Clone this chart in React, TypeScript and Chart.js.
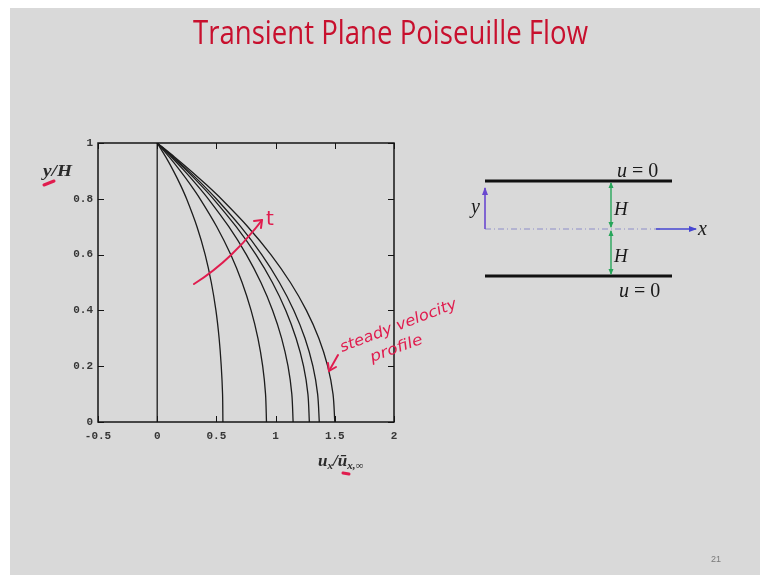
import React, { useEffect, useRef } from "react";
import { Chart, registerables } from "chart.js";

Chart.register(...registerables);

const PAGE_W = 767;
const PAGE_H = 581;

// Wall-normal positions y/H at which the profiles are sampled
const yLevels = [0, 0.1, 0.2, 0.3, 0.4, 0.5, 0.6, 0.7, 0.8, 0.85, 0.9, 0.95, 1];

// u_x / ū_x,∞ at each y/H, from fluid at rest to the steady parabola
const uRest = [0, 0, 0, 0, 0, 0, 0, 0, 0, 0, 0, 0, 0];
const uTime1 = [0.555, 0.552, 0.541, 0.523, 0.496, 0.457, 0.405, 0.336, 0.248, 0.196, 0.137, 0.072, 0];
const uTime2 = [0.923, 0.915, 0.891, 0.851, 0.793, 0.717, 0.621, 0.503, 0.362, 0.282, 0.195, 0.101, 0];
const uTime3 = [1.148, 1.137, 1.105, 1.051, 0.975, 0.876, 0.753, 0.605, 0.431, 0.334, 0.23, 0.119, 0];
const uTime4 = [1.285, 1.273, 1.236, 1.173, 1.086, 0.973, 0.834, 0.667, 0.474, 0.366, 0.251, 0.129, 0];
const uTime5 = [1.369, 1.355, 1.315, 1.248, 1.154, 1.032, 0.883, 0.705, 0.499, 0.386, 0.264, 0.136, 0];
const uSteady = [1.5, 1.485, 1.44, 1.365, 1.26, 1.125, 0.96, 0.765, 0.54, 0.416, 0.285, 0.146, 0];

const profiles = [uRest, uTime1, uTime2, uTime3, uTime4, uTime5, uSteady];

const xTicks = [-0.5, 0, 0.5, 1, 1.5, 2];
const yTicks = [0, 0.2, 0.4, 0.6, 0.8, 1];

// Box around the plot with inward tick marks on all four sides (gnuplot style)
const framePlugin = {
  id: "frameTicks",
  afterDatasetsDraw(chart: any) {
    const { ctx, chartArea: a, scales } = chart;
    const xs = scales.x;
    const ys = scales.y;
    const len = 6;
    ctx.save();
    ctx.strokeStyle = "#141414";
    ctx.lineWidth = 1.5;
    ctx.strokeRect(a.left, a.top, a.right - a.left, a.bottom - a.top);
    ctx.lineWidth = 1;
    ctx.beginPath();
    xs.ticks.forEach((t: any) => {
      const px = Math.round(xs.getPixelForValue(t.value)) + 0.5;
      ctx.moveTo(px, a.bottom);
      ctx.lineTo(px, a.bottom - len);
      ctx.moveTo(px, a.top);
      ctx.lineTo(px, a.top + len);
    });
    ys.ticks.forEach((t: any) => {
      const py = Math.round(ys.getPixelForValue(t.value)) + 0.5;
      ctx.moveTo(a.left, py);
      ctx.lineTo(a.left + len, py);
      ctx.moveTo(a.right, py);
      ctx.lineTo(a.right - len, py);
    });
    ctx.stroke();
    ctx.restore();
  },
};

function ProfilesChart() {
  const ref = useRef<HTMLCanvasElement | null>(null);

  useEffect(() => {
    if (!ref.current) return;
    const datasets = profiles.map((u) => ({
      data: yLevels.map((y, i) => ({ x: u[i], y })),
      borderColor: "#1c1c1c",
      borderWidth: 1.3,
      pointRadius: 0,
      tension: 0.3,
      fill: false,
    }));
    const tickFont = { family: "'Liberation Mono', 'DejaVu Sans Mono', monospace", size: 11, weight: "bold" as const };
    const chart = new Chart(ref.current, {
      type: "line",
      data: { datasets },
      options: {
        animation: false,
        responsive: false,
        maintainAspectRatio: false,
        layout: { padding: { left: 58, right: 373, top: 143, bottom: 129 } },
        plugins: { legend: { display: false }, tooltip: { enabled: false }, title: { display: false } },
        scales: {
          x: {
            type: "linear",
            min: -0.5,
            max: 2,
            afterBuildTicks: (s: any) => {
              s.ticks = xTicks.map((v) => ({ value: v }));
            },
            afterFit: (s: any) => {
              s.height = 30;
            },
            grid: { display: false, drawTicks: false },
            border: { display: false },
            ticks: {
              color: "#363636",
              font: tickFont,
              padding: 8,
              maxRotation: 0,
              callback: (v: any) => String(v),
            },
          },
          y: {
            type: "linear",
            min: 0,
            max: 1,
            afterBuildTicks: (s: any) => {
              s.ticks = yTicks.map((v) => ({ value: v }));
            },
            afterFit: (s: any) => {
              s.width = 40;
            },
            grid: { display: false, drawTicks: false },
            border: { display: false },
            ticks: { color: "#363636", font: tickFont, padding: 5, callback: (v: any) => String(v) },
          },
        },
      },
      plugins: [framePlugin],
    });
    return () => chart.destroy();
  }, []);

  return (
    <canvas
      ref={ref}
      width={PAGE_W}
      height={PAGE_H}
      style={{ position: "absolute", left: 0, top: 0, width: PAGE_W, height: PAGE_H }}
    />
  );
}

const RED = "#e01c4e";
const serif = "'Liberation Serif', 'DejaVu Serif', serif";
const hand = "'DejaVu Sans', 'Noto Sans', sans-serif";

function Overlay() {
  return (
    <svg
      width={PAGE_W}
      height={PAGE_H}
      style={{ position: "absolute", left: 0, top: 0 }}
      xmlns="http://www.w3.org/2000/svg"
    >
      <defs>
        <marker id="blueHead" markerWidth="8" markerHeight="8" refX="7" refY="4" orient="auto" markerUnits="userSpaceOnUse">
          <path d="M0,1 L8,4 L0,7 Z" fill="#4646d2" />
        </marker>
        <marker id="purpleHead" markerWidth="8" markerHeight="8" refX="7" refY="4" orient="auto" markerUnits="userSpaceOnUse">
          <path d="M0,1 L8,4 L0,7 Z" fill="#6a48d0" />
        </marker>
        <marker id="greenHead" markerWidth="6" markerHeight="6" refX="5" refY="3" orient="auto-start-reverse" markerUnits="userSpaceOnUse">
          <path d="M0,0.5 L6,3 L0,5.5 Z" fill="#27a65a" />
        </marker>
      </defs>

      {/* slide title */}
      <text
        x={193}
        y={44}
        fontFamily="'Open Sans', 'Noto Sans', sans-serif"
        fontSize={32}
        fill="#c8102e"
        textLength={395}
        lengthAdjust="spacingAndGlyphs"
      >
        Transient Plane Poiseuille Flow
      </text>

      {/* axis titles */}
      <text x={43} y={176} fontFamily={serif} fontStyle="italic" fontWeight="bold" fontSize={17} fill="#2a2a2a" textLength={29} lengthAdjust="spacingAndGlyphs">
        y/H
      </text>
      <text x={318} y={466} fontFamily={serif} fontStyle="italic" fontWeight="bold" fontSize={17} fill="#2a2a2a">
        u<tspan fontSize={11} dy={3}>x</tspan>
        <tspan dy={-3}>/ū</tspan>
        <tspan fontSize={11} dy={3}>x,∞</tspan>
      </text>

      {/* hand-drawn annotations */}
      <path d="M44,185 L54,181" stroke={RED} strokeWidth={3} strokeLinecap="round" />
      <path d="M343,473 L349,474" stroke={RED} strokeWidth={3} strokeLinecap="round" />
      <path d="M194,284 Q232,260 262,220" stroke={RED} strokeWidth={2} fill="none" strokeLinecap="round" />
      <path d="M254,221 L262,220 L261,228" stroke={RED} strokeWidth={2} fill="none" strokeLinecap="round" strokeLinejoin="round" />
      <text x={266} y={225} fontFamily={hand} fontSize={20} fill={RED}>
        t
      </text>
      <g transform="translate(342,352) rotate(-21)">
        <text x={0} y={0} fontFamily={hand} fontStyle="italic" fontSize={15} fill={RED} textLength={124} lengthAdjust="spacingAndGlyphs">
          steady velocity
        </text>
      </g>
      <g transform="translate(372,362) rotate(-20)">
        <text x={0} y={0} fontFamily={hand} fontStyle="italic" fontSize={15} fill={RED} textLength={55} lengthAdjust="spacingAndGlyphs">
          profile
        </text>
      </g>
      <path d="M338,355 L329,371" stroke={RED} strokeWidth={2} fill="none" strokeLinecap="round" />
      <path d="M328,363 L329,371 L336,367" stroke={RED} strokeWidth={2} fill="none" strokeLinecap="round" strokeLinejoin="round" />

      {/* channel sketch */}
      <line x1={485} y1={181} x2={672} y2={181} stroke="#111" strokeWidth={3} />
      <line x1={485} y1={276} x2={672} y2={276} stroke="#111" strokeWidth={3} />
      <line x1={485} y1={229} x2={660} y2={229} stroke="#8d8dc8" strokeWidth={1} strokeDasharray="6 3 1 3" />
      <line x1={656} y1={229} x2={696} y2={229} stroke="#4646d2" strokeWidth={1.6} markerEnd="url(#blueHead)" />
      <line x1={485} y1={229} x2={485} y2={188} stroke="#6a48d0" strokeWidth={1.6} markerEnd="url(#purpleHead)" />
      <line x1={611} y1={183} x2={611} y2={227} stroke="#27a65a" strokeWidth={1.4} markerStart="url(#greenHead)" markerEnd="url(#greenHead)" />
      <line x1={611} y1={231} x2={611} y2={274} stroke="#27a65a" strokeWidth={1.4} markerStart="url(#greenHead)" markerEnd="url(#greenHead)" />

      <text x={617} y={177} fontFamily={serif} fontSize={20} fill="#1a1a1a">
        <tspan fontStyle="italic">u</tspan> = 0
      </text>
      <text x={619} y={297} fontFamily={serif} fontSize={20} fill="#1a1a1a">
        <tspan fontStyle="italic">u</tspan> = 0
      </text>
      <text x={614} y={215} fontFamily={serif} fontStyle="italic" fontSize={19} fill="#1a1a1a">
        H
      </text>
      <text x={614} y={262} fontFamily={serif} fontStyle="italic" fontSize={19} fill="#1a1a1a">
        H
      </text>
      <text x={698} y={235} fontFamily={serif} fontStyle="italic" fontSize={20} fill="#1a1a1a">
        x
      </text>
      <text x={471} y={213} fontFamily={serif} fontStyle="italic" fontSize={20} fill="#1a1a1a">
        y
      </text>

      {/* slide number */}
      <text x={711} y={562} fontFamily="'Liberation Sans', sans-serif" fontSize={9} fill="#7a7a7a">
        21
      </text>
    </svg>
  );
}

export default function App() {
  return (
    <div
      style={{
        position: "fixed",
        left: 0,
        top: 0,
        width: PAGE_W,
        height: PAGE_H,
        background: "#ffffff",
        overflow: "hidden",
      }}
    >
      <div style={{ position: "absolute", left: 10, top: 8, width: 750, height: 567, background: "#d9d9d9" }} />
      <ProfilesChart />
      <Overlay />
    </div>
  );
}
